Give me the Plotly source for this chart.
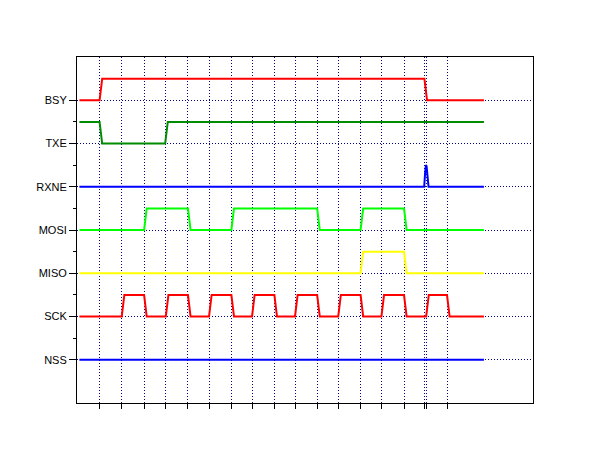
import plotly.graph_objects as go

# ---- data (time in arbitrary units, levels: 0 = low, 1 = high) ----
signals = ["BSY", "TXE", "RXNE", "MOSI", "MISO", "SCK", "NSS"]
baselines = [6, 5, 4, 3, 2, 1, 0]

t_start = 0.07
t_end = 18.7

bsy_init = 0
bsy_edges = [1.0, 15.96]

txe_init = 1
txe_edges = [1.0, 4.02]

mosi_init = 0
mosi_edges = [3.05, 5.07, 7.07, 11.02, 13.02, 15.02]

miso_init = 0
miso_edges = [13.02, 15.02]

sck_init = 0
sck_edges = [2.02, 3.05, 4.05, 5.07, 6.04, 7.07, 8.02, 9.05, 10.0,
             11.02, 11.99, 13.02, 13.98, 15.02, 16.04, 17.0]

nss_init = 0
nss_edges = []

# RXNE: short pulse near end of transfer
rxne_spike_t = [15.95, 15.99, 16.03, 16.06, 16.1, 16.15]
rxne_spike_v = [0.0, 0.62, 1.0, 0.95, 0.35, 0.0]

colors = {"BSY": "#ff0000", "TXE": "#008c00", "RXNE": "#0000ff",
          "MOSI": "#00ff00", "MISO": "#ffff00", "SCK": "#ff0000",
          "NSS": "#0000ff"}

AMP = 0.5
RISE = 0.12


def waveform(init, edges, base):
    xs = [t_start]
    ys = [base + AMP * init]
    state = init
    for e in edges:
        xs.append(e)
        ys.append(base + AMP * state)
        state = 1 - state
        xs.append(e + RISE)
        ys.append(base + AMP * state)
    xs.append(t_end)
    ys.append(base + AMP * state)
    return xs, ys


fig = go.Figure()

defs = {
    "BSY": (bsy_init, bsy_edges),
    "TXE": (txe_init, txe_edges),
    "MOSI": (mosi_init, mosi_edges),
    "MISO": (miso_init, miso_edges),
    "SCK": (sck_init, sck_edges),
    "NSS": (nss_init, nss_edges),
}

for name, base in zip(signals, baselines):
    if name == "RXNE":
        xs = [t_start] + rxne_spike_t + [t_end]
        ys = [base] + [base + AMP * v for v in rxne_spike_v] + [base]
    else:
        init, edges = defs[name]
        xs, ys = waveform(init, edges, base)
    fig.add_trace(go.Scatter(x=xs, y=ys, mode="lines", name=name,
                             line=dict(color=colors[name], width=2),
                             hoverinfo="skip", showlegend=False))

xticks = sorted(set(bsy_edges + sck_edges))

fig.update_layout(
    width=610, height=460,
    margin=dict(l=69, r=85, t=49, b=65),
    paper_bgcolor="white", plot_bgcolor="white",
    font=dict(family="Liberation Sans, Arial, sans-serif", size=11, color="black"),
)

fig.update_xaxes(
    range=[-0.04, 20.96],
    tickvals=xticks, showticklabels=False,
    ticks="outside", ticklen=5, tickcolor="black", tickwidth=1,
    showgrid=True, gridcolor="#000080", gridwidth=1, griddash="1px,2px",
    showline=True, linecolor="black", linewidth=1, mirror=True,
    zeroline=False,
)

fig.update_yaxes(
    range=[-1, 7],
    tickvals=baselines, ticktext=signals,
    ticks="outside", ticklen=7, tickcolor="black", tickwidth=1,
    minor=dict(tickvals=[0.5, 1.5, 2.5, 3.5, 4.5, 5.5], ticks="outside",
               ticklen=3, tickcolor="black", showgrid=False),
    showgrid=True, gridcolor="#000080", gridwidth=1, griddash="1px,2px",
    showline=True, linecolor="black", linewidth=1, mirror=True,
    zeroline=False,
    tickfont=dict(size=11, color="black"),
)

fig.write_html("out.html")
